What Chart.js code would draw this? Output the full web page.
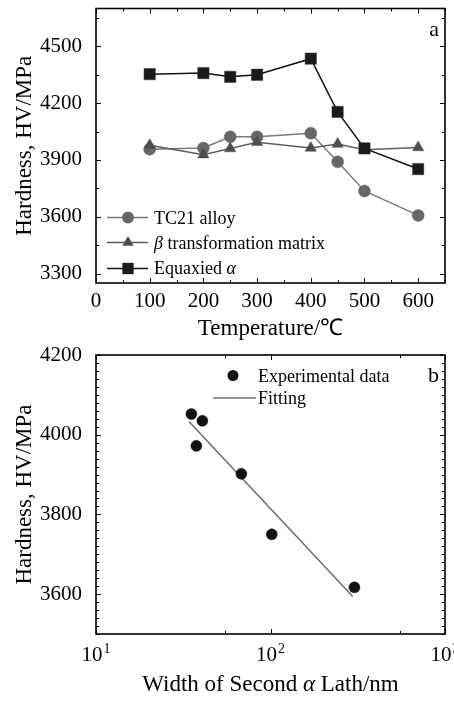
<!DOCTYPE html>
<html>
<head>
<meta charset="utf-8">
<script src="https://cdn.jsdelivr.net/npm/chart.js@4.4.1/dist/chart.umd.min.js"></script>
<style>
  body { margin: 0; background: #fff; }
  canvas { display: block; }
</style>
</head>
<body>
<canvas id="hardTemp" width="454" height="340"></canvas>
<canvas id="hardLath" width="454" height="362"></canvas>
<script>
// (a) hardness against ageing temperature
var temps = [100, 200, 250, 300, 400, 450, 500, 600];
var tc21 = [3957, 3963, 4022, 4022, 4041, 3890, 3736, 3607];
var betaMatrix = [3978, 3928, 3960, 3994, 3963, 3984, 3954, 3966];
var equiaxedAlpha = [4353, 4359, 4339, 4350, 4435, 4154, 3961, 3852];

var tempTicks = [0, 100, 200, 300, 400, 500, 600];
var tempMinor = [50, 150, 250, 350, 450, 550, 650];
var hardTicksA = [3300, 3600, 3900, 4200, 4500];
var hardMinorA = [3450, 3750, 4050, 4350, 4650];

// (b) hardness against width of secondary alpha laths
var lathWidth = [35.2, 40.7, 37.6, 68.1, 101.7, 302.7];
var lathHardness = [4052, 4035, 3972, 3902, 3750, 3617];
var fitWidth = [34.1, 296];
var fitHardness = [4033, 3594];

var widthTicks = [10, 100, 1000];
var widthLabels = [['10', '1'], ['10', '2'], ['10', '3']];
var widthMinor = [55, 550];
var hardTicksB = [3600, 3800, 4000, 4200];

var serif = "'Liberation Serif', 'Times New Roman', serif";
Chart.defaults.font.family = serif;
Chart.defaults.color = '#000';

function xy(xs, ys) {
  return xs.map(function (v, i) { return { x: v, y: ys[i] }; });
}

// text with greek letters set in italic
function drawRuns(ctx, text, x, y, size, align) {
  var runs = text.split(/([α-ω])/).filter(function (s) { return s !== ''; });
  var w = 0;
  runs.forEach(function (r) {
    ctx.font = (/[α-ω]/.test(r) ? 'italic ' : '') + size + 'px ' + serif;
    w += ctx.measureText(r).width;
  });
  var cx = align === 'center' ? x - w / 2 : x;
  ctx.textAlign = 'left';
  runs.forEach(function (r) {
    ctx.font = (/[α-ω]/.test(r) ? 'italic ' : '') + size + 'px ' + serif;
    ctx.fillText(r, cx, y);
    cx += ctx.measureText(r).width;
  });
}

function drawMarker(ctx, style, x, y, r) {
  ctx.beginPath();
  if (style === 'triangle') {
    ctx.moveTo(x, y - r);
    ctx.lineTo(x + r * 0.866, y + r * 0.5);
    ctx.lineTo(x - r * 0.866, y + r * 0.5);
    ctx.closePath();
  } else if (style === 'rect') {
    var h = r * Math.SQRT1_2;
    ctx.rect(x - h, y - h, 2 * h, 2 * h);
  } else {
    ctx.arc(x, y, r, 0, Math.PI * 2);
  }
  ctx.fill();
}

var frame = {
  id: 'frame',
  afterDatasetsDraw: function (chart, args, o) {
    var ctx = chart.ctx, a = chart.chartArea;
    var sx = chart.scales.x, sy = chart.scales.y;
    ctx.save();
    ctx.strokeStyle = '#000';
    ctx.lineWidth = 1;
    function xt(v, len) {
      var p = Math.round(sx.getPixelForValue(v)) + 0.5;
      ctx.beginPath();
      ctx.moveTo(p, a.bottom); ctx.lineTo(p, a.bottom - len);
      ctx.moveTo(p, a.top); ctx.lineTo(p, a.top + len);
      ctx.stroke();
    }
    function yt(v, len) {
      var p = Math.round(sy.getPixelForValue(v)) + 0.5;
      ctx.beginPath();
      ctx.moveTo(a.left, p); ctx.lineTo(a.left + len, p);
      ctx.moveTo(a.right, p); ctx.lineTo(a.right - len, p);
      ctx.stroke();
    }
    o.xMajor.forEach(function (v) { xt(v, 5); });
    o.xMinor.forEach(function (v) { xt(v, 3); });
    o.yMajor.forEach(function (v) { yt(v, 5); });
    if (o.yMinorStep) {
      for (var v = sy.min; v <= sy.max; v += o.yMinorStep) {
        if (o.yMajor.indexOf(v) < 0) yt(v, 3);
      }
    } else {
      o.yMinor.forEach(function (v) { yt(v, 3); });
    }
    ctx.lineWidth = 1.6;
    ctx.strokeRect(a.left, a.top, a.right - a.left, a.bottom - a.top);

    ctx.fillStyle = '#000';
    ctx.textBaseline = 'alphabetic';
    ctx.font = '22px ' + serif;
    ctx.textAlign = 'right';
    ctx.fillText(o.tag, a.right - 6, a.top + 27);

    // legend
    o.legend.forEach(function (it) {
      var ds = chart.data.datasets[it.index];
      var y = a.top + it.dy;
      if (it.line) {
        ctx.strokeStyle = ds.borderColor;
        ctx.lineWidth = ds.borderWidth;
        ctx.beginPath();
        ctx.moveTo(a.left + it.x0, y);
        ctx.lineTo(a.left + it.x1, y);
        ctx.stroke();
      }
      if (ds.pointRadius > 0) {
        ctx.fillStyle = ds.pointBackgroundColor;
        drawMarker(ctx, ds.pointStyle, a.left + it.mx, y, ds.pointRadius);
      }
      ctx.fillStyle = '#000';
      drawRuns(ctx, ds.label, a.left + it.tx, y + it.base, 18, 'left');
    });

    // log axis labels with exponents
    if (o.expLabels) {
      o.expLabels.forEach(function (lab, i) {
        var px = sx.getPixelForValue(o.expValues[i]);
        ctx.font = '21px ' + serif;
        var w1 = ctx.measureText(lab[0]).width;
        ctx.font = '14px ' + serif;
        var w2 = ctx.measureText(lab[1]).width;
        var left = px - (w1 + w2 + 1) / 2;
        ctx.textAlign = 'left';
        ctx.font = '21px ' + serif;
        ctx.fillText(lab[0], left, a.bottom + 27);
        ctx.font = '14px ' + serif;
        ctx.fillText(lab[1], left + w1 + 1, a.bottom + 19);
      });
    }
    if (o.xTitle) {
      ctx.textBaseline = 'middle';
      drawRuns(ctx, o.xTitle, (a.left + a.right) / 2, a.bottom + 51, 23, 'center');
    }
    ctx.restore();
  }
};

function plain(v) { return String(v); }

function yAxis(min, max, ticks) {
  return {
    type: 'linear', min: min, max: max,
    afterBuildTicks: function (s) { s.ticks = ticks.map(function (v) { return { value: v }; }); },
    afterFit: function (s) { s.width = 96; s.paddingTop = 0; s.paddingBottom = 0; },
    grid: { display: false, drawTicks: false },
    border: { display: false },
    ticks: { font: { family: serif, size: 21 }, padding: 14, autoSkip: false, callback: plain },
    title: { display: true, text: 'Hardness, HV/MPa', font: { family: serif, size: 23, lineHeight: 1 }, padding: { top: 13 } }
  };
}

new Chart(document.getElementById('hardTemp'), {
  type: 'line',
  data: {
    datasets: [{
      label: 'TC21 alloy',
      data: xy(temps, tc21),
      borderColor: '#7a7a7a', borderWidth: 1.5,
      pointStyle: 'circle', pointRadius: 6,
      pointBackgroundColor: '#676767', pointBorderColor: '#676767', pointBorderWidth: 0.5,
      order: 3
    }, {
      label: 'β transformation matrix',
      data: xy(temps, betaMatrix),
      borderColor: '#5e5e5e', borderWidth: 1.5,
      pointStyle: 'triangle', pointRadius: 6.5,
      pointBackgroundColor: '#4e4e4e', pointBorderColor: '#4e4e4e', pointBorderWidth: 0.5,
      order: 2
    }, {
      label: 'Equaxied α',
      data: xy(temps, equiaxedAlpha),
      borderColor: '#111', borderWidth: 1.5,
      pointStyle: 'rect', pointRadius: 8,
      pointBackgroundColor: '#1a1a1a', pointBorderColor: '#333', pointBorderWidth: 0.5,
      order: 1
    }]
  },
  options: {
    responsive: false,
    animation: false,
    layout: { padding: { top: 6, right: 9, left: 0, bottom: 0 } },
    plugins: {
      legend: { display: false },
      tooltip: { enabled: false },
      frame: {
        tag: 'a',
        xMajor: tempTicks, xMinor: tempMinor,
        yMajor: hardTicksA, yMinor: hardMinorA,
        legend: [
          { index: 0, dy: 209, line: true, x0: 11, x1: 52, mx: 32, tx: 58, base: 6.5 },
          { index: 1, dy: 234, line: true, x0: 11, x1: 52, mx: 32, tx: 58, base: 6 },
          { index: 2, dy: 260, line: true, x0: 11, x1: 52, mx: 32, tx: 58, base: 5 }
        ]
      }
    },
    scales: {
      x: {
        type: 'linear', min: 0, max: 650,
        afterBuildTicks: function (s) { s.ticks = tempTicks.map(function (v) { return { value: v }; }); },
        afterFit: function (s) { s.height = 57; s.paddingLeft = 0; s.paddingRight = 0; },
        grid: { display: false, drawTicks: false },
        border: { display: false },
        ticks: { font: { family: serif, size: 21 }, padding: 6, maxRotation: 0, autoSkip: false, callback: plain },
        title: { display: true, text: 'Temperature/℃', font: { family: serif, size: 23, lineHeight: 1 }, padding: 0 }
      },
      y: yAxis(3250, 4700, hardTicksA)
    }
  },
  plugins: [frame]
});

new Chart(document.getElementById('hardLath'), {
  type: 'scatter',
  data: {
    datasets: [{
      label: 'Experimental data',
      data: xy(lathWidth, lathHardness),
      pointStyle: 'circle', pointRadius: 5.5,
      pointBackgroundColor: '#111', pointBorderColor: '#111', pointBorderWidth: 0.5,
      borderColor: '#111', borderWidth: 0,
      showLine: false,
      order: 1
    }, {
      label: 'Fitting',
      data: xy(fitWidth, fitHardness),
      showLine: true,
      borderColor: '#6e6e6e', borderWidth: 1.6,
      pointRadius: 0,
      order: 2
    }]
  },
  options: {
    responsive: false,
    animation: false,
    layout: { padding: { top: 15, right: 9, left: 0, bottom: 0 } },
    plugins: {
      legend: { display: false },
      tooltip: { enabled: false },
      frame: {
        tag: 'b',
        xMajor: widthTicks, xMinor: widthMinor,
        yMajor: hardTicksB, yMinorStep: 20,
        expValues: widthTicks, expLabels: widthLabels,
        xTitle: 'Width of Second α Lath/nm',
        legend: [
          { index: 0, dy: 20.5, line: false, mx: 137, tx: 162, base: 6.5 },
          { index: 1, dy: 43, line: true, x0: 117, x1: 160, mx: 0, tx: 162, base: 5.5 }
        ]
      }
    },
    scales: {
      x: {
        type: 'logarithmic', min: 10, max: 1000,
        afterBuildTicks: function (s) { s.ticks = widthTicks.map(function (v) { return { value: v }; }); },
        afterFit: function (s) { s.height = 68; s.paddingLeft = 0; s.paddingRight = 0; },
        grid: { display: false, drawTicks: false },
        border: { display: false },
        ticks: { display: false }
      },
      y: yAxis(3500, 4200, hardTicksB)
    }
  },
  plugins: [frame]
});
</script>
</body>
</html>
